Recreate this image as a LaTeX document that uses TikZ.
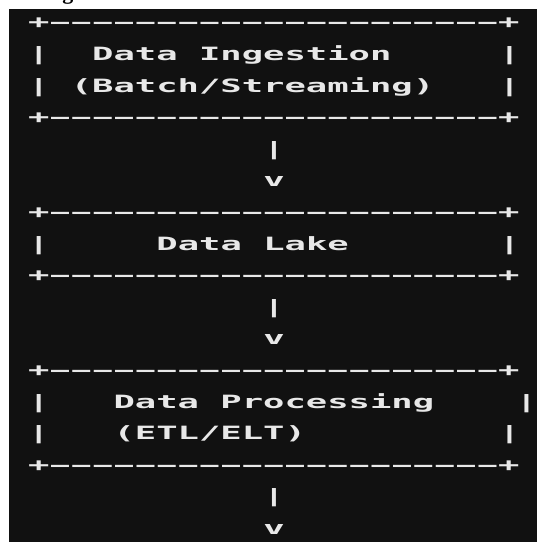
\documentclass[tikz,border=0pt]{standalone}
\usepackage{fontspec}
\newfontfamily\asciifont[FakeStretch=1.94]{DejaVu Sans Mono}
\newfontfamily\headfont{Liberation Serif}
\definecolor{termbg}{RGB}{17,17,17}
\definecolor{termfg}{RGB}{232,232,232}
\newcommand{\dashcell}{\makebox[1.168em][c]{\scalebox{0.84}[1]{\char"2013}}}
\newcommand{\border}{+\foreach \i in {1,...,21}{\dashcell}+}

\begin{document}
\begin{tikzpicture}[x=0.5pt, y=-0.5pt,
    ascii/.style={text=termfg, inner sep=0pt, anchor=base west,
        font=\asciifont\bfseries\fontsize{9.15}{11}\selectfont}]
        \fill[white] (0,0) rectangle (537,542);
        \fill[termbg] (9,9) rectangle (537,542);
        \useasboundingbox (0,0) rectangle (537,542);

        % Heading above the screenshot, cut off
        \begin{scope}
            \clip (0,0) rectangle (537,9);
            \node[anchor=base west, inner sep=0pt, font=\headfont\bfseries\fontsize{11}{11}\selectfont] at (62,-1) (heading_tail) {g};
        \end{scope}

        \begin{scope}[shift={(27.6,28.8)}, x=10.7pt, y=-15.8pt]
        % Top Box: Data Ingestion
        \node[ascii] at (0,0) (ingest_top) {\border};
        \node[ascii] at (0,1) (ingest_left_a) {|};
        \node[ascii] at (3,1) (ingest_title) {Data Ingestion};
        \node[ascii] at (22,1) (ingest_right_a) {|};
        \node[ascii] at (0,2) (ingest_left_b) {|};
        \node[ascii] at (2,2) (ingest_mode) {(Batch/Streaming)};
        \node[ascii] at (22,2) (ingest_right_b) {|};
        \node[ascii] at (0,3) (ingest_bottom) {\border};
        \node[ascii] at (11,4) (ingest_stem) {|};
        \node[ascii] at (11,5) (ingest_tip) {v};

        % Middle Box: Data Lake
        \node[ascii] at (0,6) (lake_top) {\border};
        \node[ascii] at (0,7) (lake_left) {|};
        \node[ascii] at (6,7) (lake_title) {Data Lake};
        \node[ascii] at (22,7) (lake_right) {|};
        \node[ascii] at (0,8) (lake_bottom) {\border};
        \node[ascii] at (11,9) (lake_stem) {|};
        \node[ascii] at (11,10) (lake_tip) {v};

        % Bottom Box: Data Processing
        \node[ascii] at (0,11) (proc_top) {\border};
        \node[ascii] at (0,12) (proc_left_a) {|};
        \node[ascii] at (4,12) (proc_title) {Data Processing};
        \node[ascii] at (22.8,12) (proc_right_a) {|};
        \node[ascii] at (0,13) (proc_left_b) {|};
        \node[ascii] at (4,13) (proc_mode) {(ETL/ELT)};
        \node[ascii] at (22,13) (proc_right_b) {|};
        \node[ascii] at (0,14) (proc_bottom) {\border};
        \node[ascii] at (11,15) (proc_stem) {|};
        \node[ascii] at (11,16) (proc_tip) {v};
        \end{scope}
    \end{tikzpicture}
\end{document}
